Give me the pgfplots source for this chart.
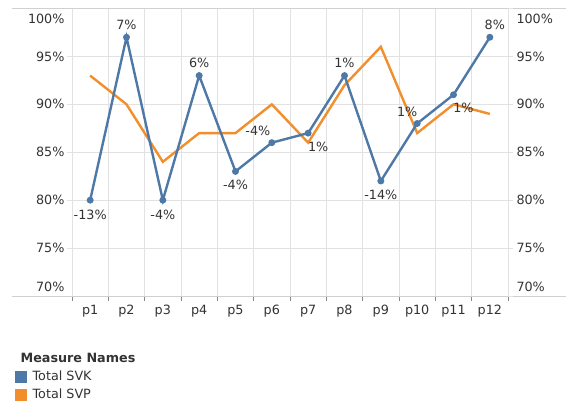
\documentclass[border=0pt]{standalone}
\usepackage{pgfplots}
\pgfplotsset{compat=1.18}
\usepackage{fontspec}
\setmainfont{DejaVu Sans}
\definecolor{svk}{HTML}{4E79A7}
\definecolor{svp}{HTML}{F28E2B}
\definecolor{gridc}{HTML}{E2E2E2}
\definecolor{linec}{HTML}{D0D0D0}
\definecolor{txt}{HTML}{333333}
\definecolor{tickc}{HTML}{888888}

\pgfplotstableread{
x svk svp
1 80 93
2 97 90
3 80 84
4 93 87
5 83 87
6 86 90
7 87 86
8 93 92
9 82 96
10 88 87
11 91 90
12 97 89
}\datatab

\pgfplotstableread{
x y lab dx dy
1 80 -13 0 -15
2 97 7 0 12
3 80 -4 0 -15
4 93 6 0 13
5 83 -4 0 -13
6 86 -4 -14 12
7 87 1 10 -14
8 93 1 0 13
9 82 -14 0 -14
10 88 1 -10 12
11 91 1 10 -13
12 97 8 5 12
}\labtab

\pgfplotsset{
  commonaxis/.style={
    scale only axis, width=436bp, height=287.5bp,
    xmin=0.5, xmax=12.5, ymin=70, ymax=100,
    axis line style={draw=none},
    tick align=outside,
    ytick={70,75,...,100},
  }
}

\begin{document}
\begin{tikzpicture}[font=\fontsize{12.8}{14}\selectfont]
\begin{axis}[
  commonaxis,
  xtick={0.5,1.5,...,12.5}, xticklabels={},
  extra x ticks={1,2,3,4,5,6,7,8,9,10,11,12},
  extra x tick labels={p1,p2,p3,p4,p5,p6,p7,p8,p9,p10,p11,p12},
  extra x tick style={major tick length=0pt, grid=none},
  xticklabel style={text=txt, yshift=-5.5bp},
  xtick pos=bottom, ytick pos=left,
  xmajorgrids, ymajorgrids,
  grid style={gridc, line width=0.8bp},
  major tick length=5bp,
  x tick style={color=tickc, line width=0.8bp},
  y tick style={color=gridc, line width=0.8bp},
  yticklabels={\raisebox{4.8bp}[0pt][0pt]{70\%},75\%,80\%,85\%,90\%,95\%,\raisebox{-14.5bp}[0pt][0pt]{100\%}},
  yticklabel style={text=txt, xshift=1bp},
  clip=false,
  legend style={draw=none, fill=none, at={(rel axis cs:0,0)}, anchor=north west,
    xshift=-57bp, yshift=-55.5bp, row sep=2.5bp, cells={anchor=west},
    font=\fontsize{12.8}{14}\selectfont, text=txt, inner sep=0pt},
  legend image code/.code={\fill[#1] (0bp,-5.5bp) rectangle (11bp,5.5bp);},
]
\coordinate (O) at (rel axis cs:0,0);
\draw[linec, line width=0.8bp] ([xshift=-60bp]rel axis cs:0,1) -- ([xshift=58bp]rel axis cs:1,1);
\draw[linec, line width=0.8bp] ([xshift=-60bp]rel axis cs:0,0) -- ([xshift=58bp]rel axis cs:1,0);
\addlegendimage{empty legend}
\addlegendentry{\hspace*{-8bp}\textbf{Measure Names}}
\addlegendimage{svk}
\addlegendentry{\hspace*{4bp}Total SVK}
\addlegendimage{svp}
\addlegendentry{\hspace*{4bp}Total SVP}
\addplot[svp, line width=2.4bp, mark=none, forget plot] table[x=x, y=svp] {\datatab};
\addplot[svk, line width=2.4bp, mark=*, mark size=2.2bp, forget plot] table[x=x, y=svk] {\datatab};
\addplot[draw=none, mark=none, forget plot,
  point meta=explicit symbolic,
  visualization depends on={\thisrow{dx}\as\mydx},
  visualization depends on={\thisrow{dy}\as\mydy},
  nodes near coords={\pgfplotspointmeta\%},
  nodes near coords style={anchor=center, xshift=\mydx, yshift=\mydy, text=txt, inner sep=0pt,
    font=\fontsize{12.8}{14}\selectfont},
] table[x=x, y=y, meta=lab] {\labtab};
\end{axis}
\begin{axis}[
  commonaxis,
  hide x axis,
  ytick pos=right, yticklabel pos=right,
  major tick length=5bp,
  y tick style={color=gridc, line width=0.8bp},
  yticklabels={\raisebox{4.8bp}[0pt][0pt]{70\%},75\%,80\%,85\%,90\%,95\%,\raisebox{-14.5bp}[0pt][0pt]{100\%}},
  yticklabel style={text=txt},
]
\end{axis}
\pgfresetboundingbox
\path (O) ++(-72bp,-105bp) rectangle ++(566bp,401bp);
\end{tikzpicture}
\end{document}
